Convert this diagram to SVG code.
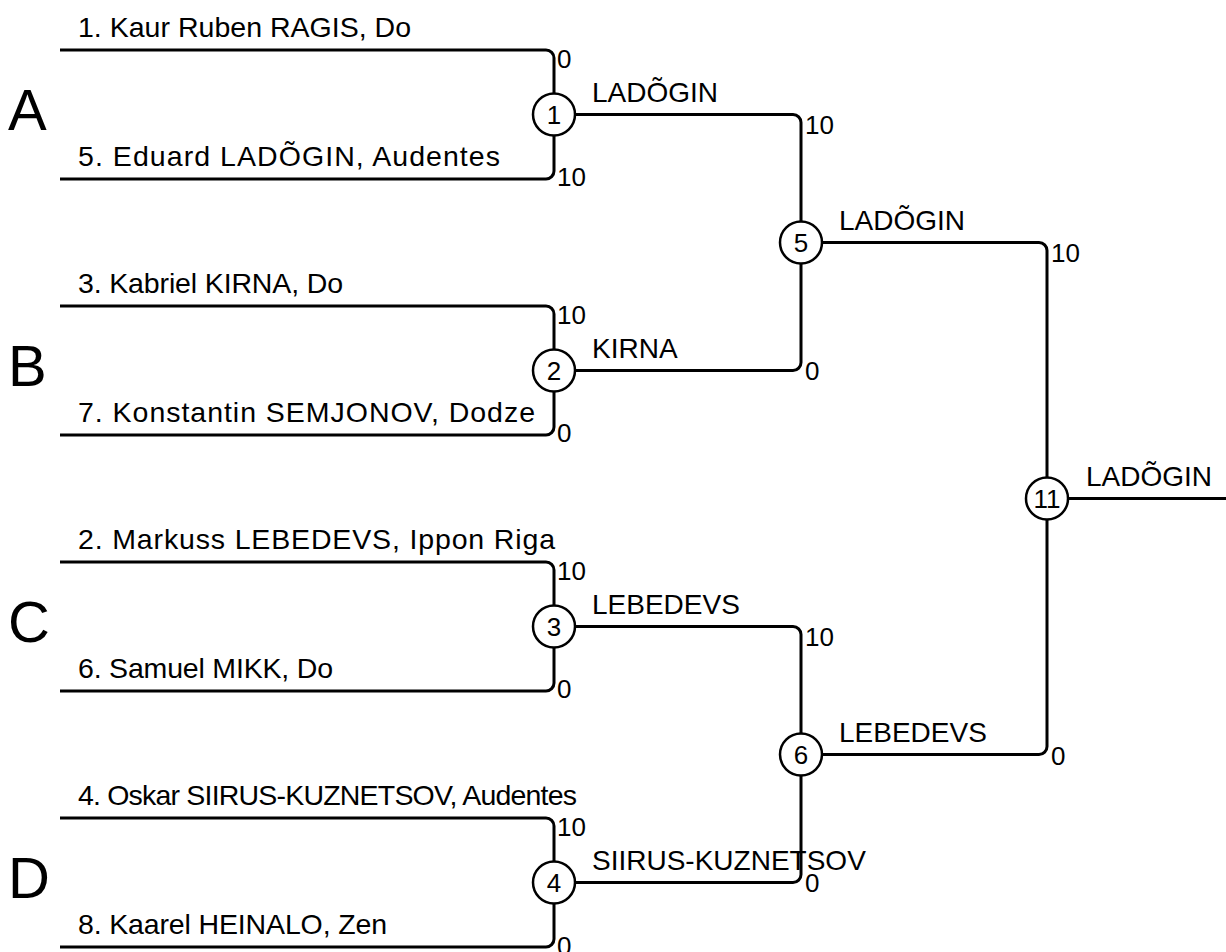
<svg xmlns="http://www.w3.org/2000/svg" width="1226" height="952" viewBox="0 0 1226 952">
<style>
text{font-family:"Liberation Sans",Arial,sans-serif;fill:#000}
.name{font-size:28.5px}
.win{font-size:28px}
.score{font-size:26px}
.grp{font-size:58px}
.num{font-size:26px;text-anchor:middle}
.ln{fill:none;stroke:#000;stroke-width:3}
.c{fill:#fff;stroke:#000;stroke-width:2.5}
</style>
<rect width="1226" height="952" fill="#fff"/>
<g id="connectors" class="ln">
<path d="M60,50 H546 A8,8 0 0 1 554,58 V93.5"/>
<path d="M60,179 H546 A8,8 0 0 0 554,171 V135.5"/>
<path d="M60,306 H546 A8,8 0 0 1 554,314 V349.5"/>
<path d="M60,435 H546 A8,8 0 0 0 554,427 V391.5"/>
<path d="M60,562 H546 A8,8 0 0 1 554,570 V605.5"/>
<path d="M60,691 H546 A8,8 0 0 0 554,683 V647.5"/>
<path d="M60,818 H546 A8,8 0 0 1 554,826 V861.5"/>
<path d="M60,947 H546 A8,8 0 0 0 554,939 V903.5"/>
<path d="M575,114.5 H793 A8,8 0 0 1 801,122.5 V221.5"/>
<path d="M575,370.5 H793 A8,8 0 0 0 801,362.5 V263.5"/>
<path d="M575,626.5 H793 A8,8 0 0 1 801,634.5 V733.5"/>
<path d="M575,882.5 H793 A8,8 0 0 0 801,874.5 V775.5"/>
<path d="M822,242.5 H1039 A8,8 0 0 1 1047,250.5 V477.5"/>
<path d="M822,754.5 H1039 A8,8 0 0 0 1047,746.5 V519.5"/>
<path d="M1068,498.5 H1226"/>
</g>
<g id="groups">
<text class="grp" x="8" y="130">A</text>
<text class="grp" x="8" y="386">B</text>
<text class="grp" x="8" y="642">C</text>
<text class="grp" x="8" y="898">D</text>
</g>
<g id="players">
<text class="name" x="78" y="37" textLength="333" lengthAdjust="spacing">1. Kaur Ruben RAGIS, Do</text>
<text class="name" x="78" y="166" textLength="422" lengthAdjust="spacing">5. Eduard LADÕGIN, Audentes</text>
<text class="name" x="78" y="293" textLength="265" lengthAdjust="spacing">3. Kabriel KIRNA, Do</text>
<text class="name" x="78" y="422" textLength="457" lengthAdjust="spacing">7. Konstantin SEMJONOV, Dodze</text>
<text class="name" x="78" y="549" textLength="477" lengthAdjust="spacing">2. Markuss LEBEDEVS, Ippon Riga</text>
<text class="name" x="78" y="678" textLength="255" lengthAdjust="spacing">6. Samuel MIKK, Do</text>
<text class="name" x="78" y="805" textLength="499" lengthAdjust="spacing">4. Oskar SIIRUS-KUZNETSOV, Audentes</text>
<text class="name" x="78" y="934" textLength="309" lengthAdjust="spacing">8. Kaarel HEINALO, Zen</text>
</g>
<g id="scores">
<text class="score" x="557" y="68">0</text>
<text class="score" x="557" y="186">10</text>
<text class="score" x="557" y="324">10</text>
<text class="score" x="557" y="442">0</text>
<text class="score" x="557" y="580">10</text>
<text class="score" x="557" y="698">0</text>
<text class="score" x="557" y="836">10</text>
<text class="score" x="557" y="955">0</text>
<text class="score" x="805" y="134">10</text>
<text class="score" x="805" y="380">0</text>
<text class="score" x="805" y="646">10</text>
<text class="score" x="805" y="892">0</text>
<text class="score" x="1051" y="262">10</text>
<text class="score" x="1051" y="765">0</text>
</g>
<g id="m1"><circle class="c" cx="554" cy="114.5" r="21"/><text class="num" x="554" y="124">1</text><text class="win" x="592" y="102">LADÕGIN</text></g>
<g id="m2"><circle class="c" cx="554" cy="370.5" r="21"/><text class="num" x="554" y="380">2</text><text class="win" x="592" y="358">KIRNA</text></g>
<g id="m3"><circle class="c" cx="554" cy="626.5" r="21"/><text class="num" x="554" y="636">3</text><text class="win" x="592" y="614">LEBEDEVS</text></g>
<g id="m4"><circle class="c" cx="554" cy="882.5" r="21"/><text class="num" x="554" y="892">4</text><text class="win" x="592" y="870">SIIRUS-KUZNETSOV</text></g>
<g id="m5"><circle class="c" cx="801" cy="242.5" r="21"/><text class="num" x="801" y="252">5</text><text class="win" x="839" y="230">LADÕGIN</text></g>
<g id="m6"><circle class="c" cx="801" cy="754.5" r="21"/><text class="num" x="801" y="764">6</text><text class="win" x="839" y="742">LEBEDEVS</text></g>
<g id="m11"><circle class="c" cx="1047" cy="498.5" r="21"/><text class="num" x="1047" y="508">11</text><text class="win" x="1086" y="486">LADÕGIN</text></g>
</svg>
